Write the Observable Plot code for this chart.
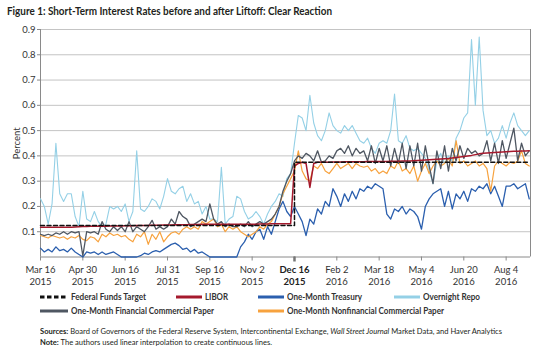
<!DOCTYPE html>
<html><head><meta charset="utf-8">
<script src="https://cdn.jsdelivr.net/npm/d3@7"></script>
<script src="https://cdn.jsdelivr.net/npm/@observablehq/plot@0.6"></script>
<style>
body{margin:0;background:#fff;}
#wrap{position:relative;width:540px;height:356px;overflow:hidden;font-family:Lato,"Open Sans",sans-serif;color:#231f20;}
#title{position:absolute;left:7px;top:4px;font-weight:bold;font-size:10.8px;white-space:nowrap;}
#chart{position:absolute;left:0;top:20px;}
.leg{position:absolute;font-size:9.2px;font-weight:bold;white-space:nowrap;line-height:11px;color:#333;}
.leg svg{position:absolute;}
.note{position:absolute;left:40px;font-size:8px;white-space:nowrap;color:#231f20;}
</style></head>
<body><div id="wrap">
<div id="title">Figure 1: Short-Term Interest Rates before and after Liftoff: Clear Reaction</div>
<div id="chart"></div>
<div id="legend"></div>
<div class="note" id="n1" style="top:326px"><b>Sources:</b> Board of Governors of the Federal Reserve System, Intercontinental Exchange, <i>Wall Street Journal</i> Market Data, and Haver Analytics</div>
<div class="note" id="n2" style="top:337px"><b>Note:</b> The authors used linear interpolation to create continuous lines.</div>
</div>
<script>
// x = observation index, one every 3 business days starting Mar 16 2015
const tickIdx = [0, 11, 22, 33, 44, 55, 66, 77, 88, 99, 110, 121];
const tickLabels = ["Mar 16\n2015","Apr 30\n2015","Jun 16\n2015","Jul 31\n2015","Sep 16\n2015","Nov 2\n2015","Dec 16\n2015","Feb 2\n2016","Mar 18\n2016","May 4\n2016","Jun 20\n2016","Aug 4\n2016"];
const liftoffIdx = 66;
const yTicks = [0.1,0.2,0.3,0.4,0.5,0.6,0.7,0.8,0.9];

const fedTargetIdx = [0, 66, 127];
const fedTargetVal = [0.125, 0.375, 0.375];

const libor = [
0.118,0.118,0.118,0.118,0.118,0.118,0.118,0.118,0.118,0.119,0.12,
0.121,0.121,0.122,0.122,0.122,0.122,0.122,0.123,0.123,0.123,0.123,
0.124,0.124,0.124,0.125,0.125,0.125,0.125,0.126,0.126,0.126,0.127,
0.127,0.127,0.128,0.128,0.128,0.128,0.129,0.129,0.129,0.13,0.13,
0.13,0.13,0.13,0.13,0.13,0.13,0.13,0.13,0.13,0.13,0.13,
0.13,0.13,0.131,0.131,0.131,0.132,0.132,0.132,0.132,0.132,0.132,
0.36,0.37,0.375,0.37,0.275,0.37,0.375,0.375,0.375,0.375,0.376,
0.376,0.376,0.377,0.377,0.377,0.377,0.377,0.377,0.378,0.378,0.378,
0.378,0.378,0.378,0.379,0.379,0.379,0.38,0.38,0.38,0.381,0.382,
0.383,0.384,0.385,0.386,0.387,0.388,0.389,0.39,0.392,0.394,0.396,
0.398,0.4,0.402,0.405,0.408,0.41,0.411,0.412,0.413,0.414,0.415,
0.416,0.417,0.418,0.418,0.419,0.419,0.42];

const treasury = [
0.035,0.02,0.03,0.02,0.04,0.025,0.03,0.02,0.035,0.02,0.01,
0.0,0.02,0.015,0.02,0.01,0.02,0.01,0.015,0.02,0.01,0.0,
0.0,0.0,0.0,0.0,0.005,0.015,0.01,0.02,0.025,0.02,0.03,
0.04,0.05,0.055,0.045,0.03,0.035,0.02,0.03,0.015,0.02,0.01,
0.0,0.0,0.0,0.0,0.0,0.0,0.0,0.0,0.04,0.06,0.09,
0.07,0.1,0.11,0.07,0.12,0.09,0.14,0.19,0.22,0.18,0.16,
0.2,0.17,0.14,0.085,0.15,0.13,0.19,0.17,0.22,0.2,0.27,
0.24,0.2,0.25,0.22,0.26,0.23,0.27,0.26,0.28,0.27,0.29,
0.28,0.27,0.17,0.15,0.19,0.18,0.2,0.17,0.19,0.18,0.16,
0.11,0.2,0.23,0.25,0.26,0.27,0.2,0.26,0.19,0.25,0.23,
0.26,0.22,0.27,0.26,0.28,0.27,0.29,0.25,0.28,0.24,0.2,
0.28,0.28,0.29,0.27,0.28,0.29,0.23];

const repo = [
0.23,0.2,0.13,0.21,0.45,0.25,0.22,0.25,0.25,0.16,0.12,
0.26,0.15,0.14,0.18,0.14,0.12,0.13,0.2,0.19,0.2,0.18,
0.21,0.14,0.18,0.42,0.19,0.18,0.2,0.23,0.22,0.19,0.24,
0.31,0.26,0.25,0.27,0.28,0.22,0.25,0.21,0.22,0.17,0.2,
0.15,0.15,0.14,0.355,0.13,0.15,0.16,0.24,0.23,0.18,0.15,
0.16,0.18,0.16,0.13,0.17,0.2,0.22,0.25,0.24,0.31,0.33,
0.45,0.56,0.55,0.5,0.64,0.53,0.48,0.46,0.5,0.57,0.52,
0.5,0.49,0.52,0.5,0.52,0.49,0.46,0.45,0.47,0.43,0.41,
0.45,0.46,0.45,0.5,0.645,0.46,0.45,0.48,0.43,0.42,0.43,
0.41,0.39,0.34,0.29,0.38,0.41,0.37,0.4,0.38,0.47,0.5,
0.55,0.57,0.86,0.6,0.87,0.58,0.48,0.5,0.45,0.47,0.52,
0.47,0.53,0.57,0.52,0.5,0.48,0.5];

const finCP = [
0.09,0.085,0.09,0.085,0.095,0.09,0.1,0.09,0.1,0.095,0.1,
0.005,0.1,0.095,0.1,0.09,0.14,0.11,0.1,0.12,0.105,0.12,
0.1,0.14,0.1,0.12,0.11,0.1,0.12,0.145,0.11,0.12,0.11,
0.12,0.15,0.13,0.18,0.16,0.15,0.12,0.13,0.14,0.15,0.14,
0.21,0.15,0.13,0.14,0.12,0.13,0.12,0.12,0.13,0.12,0.14,
0.12,0.13,0.14,0.13,0.14,0.15,0.17,0.2,0.26,0.3,0.33,
0.38,0.4,0.39,0.41,0.4,0.38,0.42,0.375,0.38,0.4,0.39,
0.42,0.43,0.41,0.44,0.4,0.43,0.41,0.42,0.38,0.44,0.37,
0.43,0.38,0.44,0.36,0.43,0.37,0.45,0.35,0.44,0.36,0.45,
0.34,0.44,0.36,0.29,0.42,0.35,0.44,0.34,0.43,0.38,0.44,
0.39,0.43,0.41,0.42,0.4,0.41,0.46,0.38,0.45,0.37,0.46,
0.39,0.45,0.51,0.38,0.45,0.4,0.42];

const nonfinCP = [
0.085,0.08,0.075,0.085,0.08,0.075,0.08,0.07,0.08,0.075,0.085,
0.07,0.065,0.08,0.075,0.06,0.09,0.08,0.095,0.085,0.09,0.08,
0.085,0.07,0.06,0.09,0.08,0.1,0.05,0.09,0.07,0.1,0.06,
0.08,0.095,0.1,0.09,0.11,0.12,0.11,0.12,0.11,0.14,0.13,
0.14,0.15,0.12,0.13,0.1,0.12,0.11,0.12,0.1,0.09,0.08,
0.09,0.1,0.12,0.11,0.13,0.14,0.17,0.2,0.25,0.28,0.31,
0.34,0.42,0.34,0.31,0.3,0.36,0.35,0.37,0.34,0.33,0.35,
0.37,0.35,0.36,0.37,0.35,0.37,0.36,0.355,0.36,0.34,0.35,
0.33,0.34,0.33,0.36,0.35,0.38,0.34,0.35,0.33,0.36,0.3,
0.34,0.37,0.33,0.36,0.38,0.36,0.37,0.39,0.36,0.46,0.37,
0.38,0.36,0.37,0.38,0.36,0.37,0.35,0.26,0.36,0.38,0.37,
0.36,0.375,0.37,0.38,0.42,0.37,0.36];

const seriesNames = ["Federal Funds Target","LIBOR","One-Month Treasury","Overnight Repo","One-Month Financial Commercial Paper","One-Month Nonfinancial Commercial Paper"];
const seriesColors = ["#111111","#a5192d","#2b5fae","#94d0e6","#4f5762","#f7a23e"];

const font = "Lato,'Open Sans',sans-serif";
const toPts = arr => arr.map((v, i) => ({i, v}));
const fedPts = fedTargetIdx.map((i, k) => ({i, v: fedTargetVal[k]}));
const ticks = tickIdx.map((i, k) => ({i, label: tickLabels[k]}));
const xMax = 127.33;

const chart = Plot.plot({
  width: 540, height: 270,
  marginLeft: 40, marginRight: 10, marginTop: 9, marginBottom: 33.5,
  style: {fontFamily: font, fontSize: "9.5px", color: "#333", background: "#fff"},
  x: {domain: [0, xMax], axis: null},
  y: {domain: [0, 0.9], axis: null},
  marks: [
    Plot.gridY(yTicks, {stroke: "#c4c4c4", strokeOpacity: 1, strokeWidth: 1}),
    Plot.axisY({ticks: yTicks, tickSize: 3, tickPadding: 2, stroke: "#8a8a8a", fontSize: 9.5,
      label: "Percent", labelAnchor: "center", labelArrow: "none", labelOffset: 27}),
    Plot.ruleX([0, xMax], {stroke: "#8a8a8a"}),
    Plot.ruleY([0], {stroke: "#8a8a8a"}),
    Plot.axisX({ticks: tickIdx, tickSize: 4, tickFormat: () => "", label: null, stroke: "#8a8a8a"}),
    Plot.axisX({ticks: [liftoffIdx], tickSize: 5, strokeWidth: 2.5, tickFormat: () => "", label: null, stroke: "#777"}),
    Plot.text(ticks.filter(d => d.i !== liftoffIdx), {x: "i", text: "label", frameAnchor: "bottom", lineAnchor: "top", dy: 8, lineHeight: 1.25, fill: "#333", fontSize: 9.5}),
    Plot.text(ticks.filter(d => d.i === liftoffIdx), {x: "i", text: "label", frameAnchor: "bottom", lineAnchor: "top", dy: 8, lineHeight: 1.25, fill: "#222", fontSize: 9.5, fontWeight: "bold"}),
    Plot.line(toPts(repo), {x: "i", y: "v", stroke: seriesColors[3], strokeWidth: 1.1}),
    Plot.line(toPts(treasury), {x: "i", y: "v", stroke: seriesColors[2], strokeWidth: 1.3}),
    Plot.line(toPts(nonfinCP), {x: "i", y: "v", stroke: seriesColors[5], strokeWidth: 1.2}),
    Plot.line(toPts(finCP), {x: "i", y: "v", stroke: seriesColors[4], strokeWidth: 1.3}),
    Plot.line(toPts(libor), {x: "i", y: "v", stroke: seriesColors[1], strokeWidth: 1.5}),
    Plot.line(fedPts, {x: "i", y: "v", curve: "step-after", stroke: seriesColors[0], strokeWidth: 1.5, strokeDasharray: "4,2.5"})
  ]
});
document.getElementById("chart").appendChild(chart);

// fit text widths horizontally to the reference layout
function fit(el, target) {
  const w = el.getBoundingClientRect().width;
  if (w > 0) { el.style.transformOrigin = "0 50%"; el.style.transform = `scaleX(${Math.min(1.1, target / w)})`; }
}

// legend
const legPos = [[40,291],[176,291],[258,291],[394,291],[40,305],[258,305]];
const swW = [28,26,26,26,28,26];
const legTextW = [75,23,75,57,143,157];
const leg = document.getElementById("legend");
seriesNames.forEach((name, k) => {
  const [x, y] = legPos[k];
  const d = document.createElement("div");
  d.className = "leg";
  d.style.left = x + "px"; d.style.top = y + "px";
  const dash = k === 0 ? ' stroke-dasharray="4.5,2.5"' : '';
  d.innerHTML = `<svg width="${swW[k]}" height="11" style="left:0;top:0"><line x1="0" x2="${swW[k]}" y1="6" y2="6" stroke="${seriesColors[k]}" stroke-width="3"${dash}/></svg><span style="position:absolute;left:${swW[k]+3}px;top:0">${name}</span>`;
  leg.appendChild(d);
  fit(d.querySelector("span"), legTextW[k]);
});
fit(document.getElementById("title"), 325);
fit(document.getElementById("n1"), 462);
fit(document.getElementById("n2"), 232);
</script>
</body></html>
